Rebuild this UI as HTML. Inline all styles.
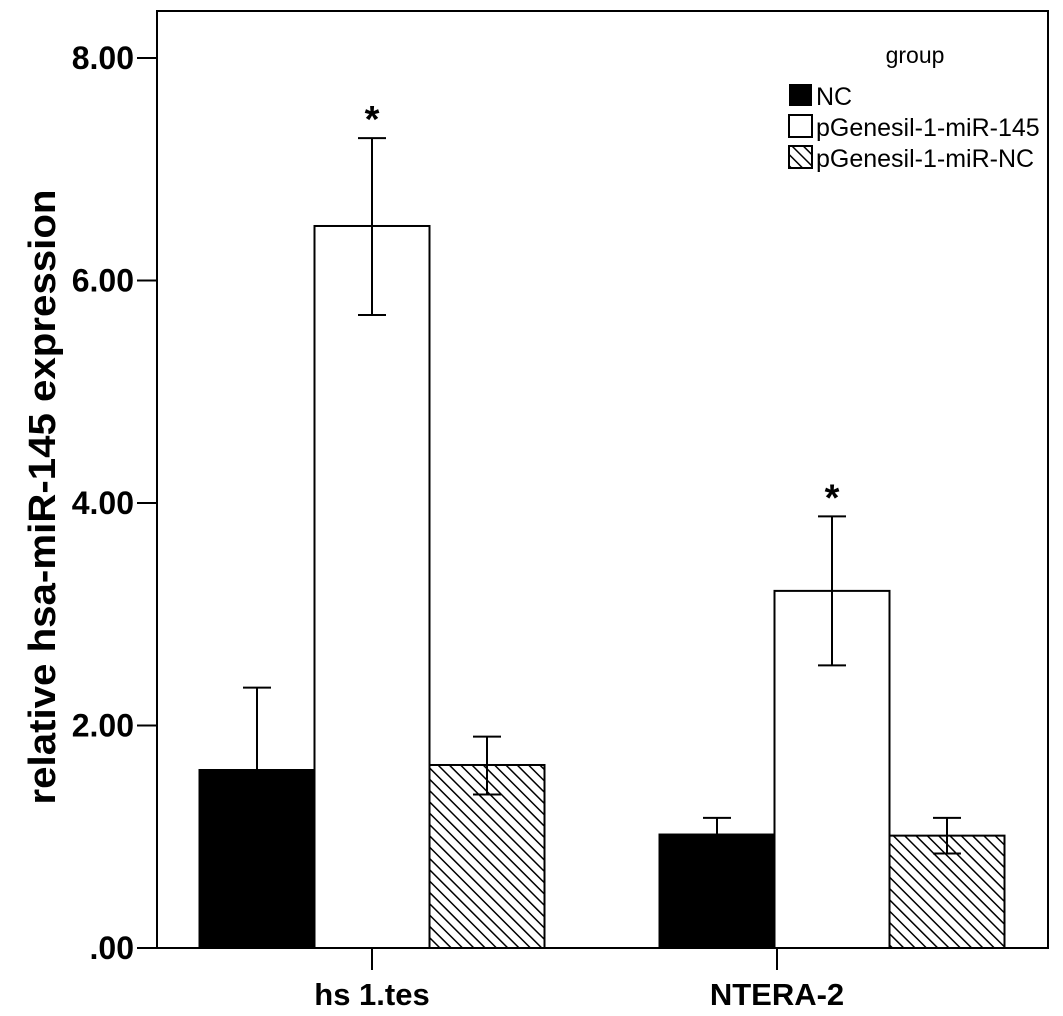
<!DOCTYPE html>
<html><head><meta charset="utf-8"><style>
body{margin:0;background:#fff}
svg{display:block}
text{font-family:"Liberation Sans",Arial,sans-serif}
</style></head><body>
<svg id="chart" width="1063" height="1016" viewBox="0 0 1063 1016" xmlns="http://www.w3.org/2000/svg">
<defs>
<pattern id="hatch" patternUnits="userSpaceOnUse" width="8" height="8" patternTransform="rotate(-45)">
<rect width="8" height="8" fill="#fff"/><line x1="0" y1="0" x2="0" y2="8" stroke="#000" stroke-width="3"/>
</pattern>
</defs>
<rect x="157" y="11" width="891" height="937" fill="none" stroke="#000" stroke-width="2"/>
<g id="yaxis"></g>
<g id="xaxis"></g>
<g id="bars"></g>
<text transform="translate(55,497) rotate(-90)" text-anchor="middle" font-size="38" font-weight="bold" textLength="615" lengthAdjust="spacingAndGlyphs">relative hsa-miR-145 expression</text>
<g>
<text x="915" y="63" text-anchor="middle" font-size="23">group</text>
<g><rect x="789" y="84" width="23" height="22" fill="#000"/><text x="816" y="105" font-size="25">NC</text></g>
<g><rect x="789" y="115" width="23" height="22" fill="#fff" stroke="#000" stroke-width="2"/><text x="816" y="136" font-size="25">pGenesil-1-miR-145</text></g>
<g><rect x="789" y="146" width="23" height="22" fill="url(#hatch)" stroke="#000" stroke-width="2"/><text x="816" y="167" font-size="25">pGenesil-1-miR-NC</text></g>
</g>
</svg>
<script>
const categories=["hs 1.tes","NTERA-2"];
const seriesNames=["NC","pGenesil-1-miR-145","pGenesil-1-miR-NC"];
const ncValues=[1.60,1.02];
const mir145Values=[6.49,3.21];
const mirncValues=[1.645,1.01];
const ncErrHi=[2.34,1.17];
const ncErrLo=[0.86,0.86];
const mir145ErrHi=[7.28,3.88];
const mir145ErrLo=[5.69,2.54];
const mirncErrHi=[1.90,1.17];
const mirncErrLo=[1.38,0.85];
const significant=[true,true];
const yTicks=[0,2,4,6,8];
const yTickLabels=[".00","2.00","4.00","6.00","8.00"];

const NS="http://www.w3.org/2000/svg";
const y=v=>948-v*111.25;
const xTick=i=>372+i*405;
const xBar=i=>372+i*460;
const barW=115;
function el(t,a,p){const e=document.createElementNS(NS,t);for(const k in a)e.setAttribute(k,a[k]);p.appendChild(e);return e;}
const ya=document.getElementById('yaxis'),xa=document.getElementById('xaxis'),bg=document.getElementById('bars');
yTicks.forEach((v,i)=>{
 const l=el('line',{x1:137,x2:157,y1:y(v),y2:y(v),stroke:'#000','stroke-width':2},ya);
 
 
 const t=el('text',{x:134,y:y(v)+11,'text-anchor':'end','font-size':32,'font-weight':'bold'},ya);
 t.textContent=yTickLabels[i];
 
 
});
const vals=[ncValues,mir145Values,mirncValues],hi=[ncErrHi,mir145ErrHi,mirncErrHi],lo=[ncErrLo,mir145ErrLo,mirncErrLo];
const fills=['#000','#fff','url(#hatch)'];
categories.forEach((c,i)=>{
 const tx=xTick(i);
 const tk=el('line',{x1:tx,x2:tx,y1:948,y2:970,stroke:'#000','stroke-width':2},xa);
 
 
 const t=el('text',{x:tx,y:1005,'text-anchor':'middle','font-size':31,'font-weight':'bold'},xa);
 t.textContent=c;
 
 
 const cx=xBar(i);
 for(let s=0;s<3;s++){
  const x0=cx-1.5*barW+s*barW, v=vals[s][i];
  const r=el('rect',{x:x0,y:y(v),width:barW,height:948-y(v),fill:fills[s],stroke:'#000','stroke-width':2},bg);
  
  
  const bx=x0+barW/2;
  const g=el('g',{stroke:'#000','stroke-width':2},bg);
  
  
  el('line',{x1:bx,x2:bx,y1:y(hi[s][i]),y2:y(lo[s][i])},g);
  el('line',{x1:bx-14,x2:bx+14,y1:y(hi[s][i]),y2:y(hi[s][i])},g);
  el('line',{x1:bx-14,x2:bx+14,y1:y(lo[s][i]),y2:y(lo[s][i])},g);
 }
 if(significant[i]){
  const a=el('text',{x:cx,y:y(mir145ErrHi[i])-6,'text-anchor':'middle','font-size':38,'font-weight':'bold'},bg);
  a.textContent='*';
  
  
 }
});
</script>
</body></html>
